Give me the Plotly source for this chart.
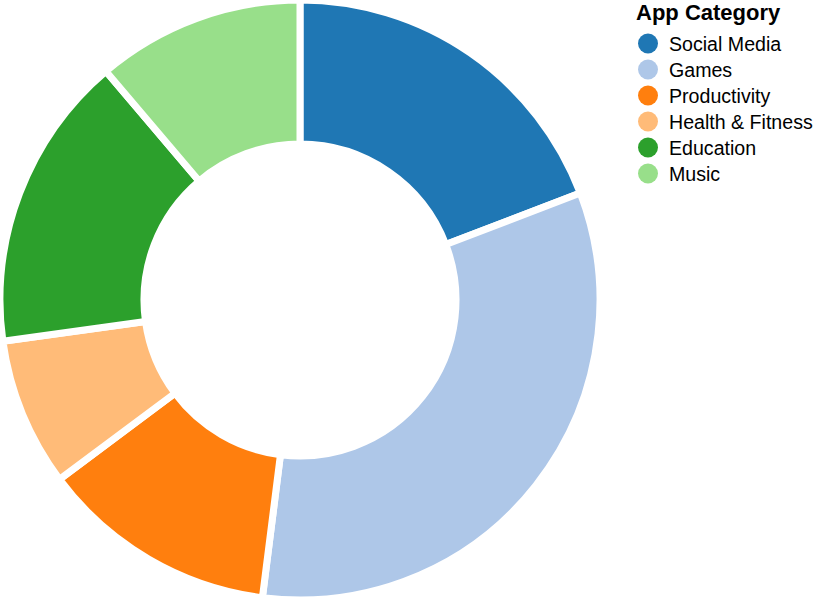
import plotly.graph_objects as go

categories = ["Social Media", "Games", "Productivity", "Health & Fitness", "Education", "Music"]
values = [24, 41, 16, 10, 20, 14]
colors = ["#1f77b4", "#aec7e8", "#ff7f0e", "#ffbb78", "#2ca02c", "#98df8a"]
legend_title = "App Category"

W, H = 816, 600
FONT = "Liberation Sans, Arial, Helvetica, sans-serif"

fig = go.Figure()
fig.add_trace(go.Pie(
    labels=categories, values=values, sort=False, direction="clockwise", rotation=0,
    hole=0.52, marker=dict(colors=colors, line=dict(color="white", width=7)),
    textinfo="none", hoverinfo="label+value", showlegend=False,
    domain=dict(x=[0, 600 / W], y=[0, 1]),
))

# custom legend (circle symbols) on hidden pixel-scaled axes
leg_x, leg_y0, leg_dy = 648, 43.5, 26
ys = [leg_y0 + i * leg_dy for i in range(len(categories))]
fig.add_trace(go.Scatter(
    x=[leg_x] * len(categories), y=ys, mode="markers",
    marker=dict(size=20, color=colors, line=dict(width=0)),
    hoverinfo="skip", showlegend=False,
))
annotations = [dict(
    x=leg_x - 14, y=12, xref="x", yref="y", text="<b>" + legend_title + "</b>",
    showarrow=False, xanchor="left", yanchor="middle",
    font=dict(size=22, family=FONT, color="black"),
)]
for c, y in zip(categories, ys):
    annotations.append(dict(
        x=leg_x + 19, y=y, xref="x", yref="y", text=c, showarrow=False,
        xanchor="left", yanchor="middle", font=dict(size=19.6, family=FONT, color="black"),
    ))

fig.update_layout(
    width=W, height=H, margin=dict(l=0, r=0, t=0, b=0),
    paper_bgcolor="white", plot_bgcolor="white",
    font=dict(family=FONT, color="black"),
    xaxis=dict(visible=False, range=[0, W], fixedrange=True),
    yaxis=dict(visible=False, range=[H, 0], fixedrange=True),
    annotations=annotations, showlegend=False,
)
fig.write_html("out.html")
